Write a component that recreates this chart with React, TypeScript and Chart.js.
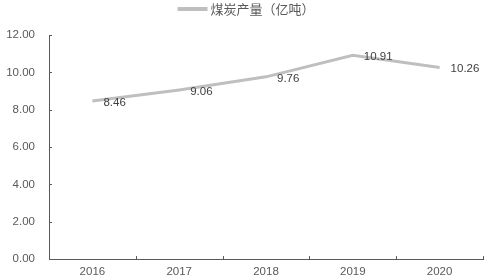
import React, { useEffect, useRef } from "react";
import { Chart, registerables } from "chart.js";

Chart.register(...registerables);

const categories = ["2016", "2017", "2018", "2019", "2020"];
const coalOutput = [8.46, 9.06, 9.76, 10.91, 10.26];
const seriesLabel = "煤炭产量（亿吨）";
const yMin = 0;
const yMax = 12;
const yStep = 2;

const FONT = "'Liberation Sans', Arial, sans-serif";
const CJK_FONT = "'Noto Sans CJK SC', 'Liberation Sans', sans-serif";
const AXIS_COLOR = "#595959";
const LINE_COLOR = "#BFBFBF";

const decorPlugin = {
  id: "decor",
  afterDatasetsDraw(chart: any) {
    const ctx = chart.ctx;
    const meta = chart.getDatasetMeta(0);
    const data = chart.data.datasets[0].data as number[];
    ctx.save();
    ctx.font = `11.5px ${FONT}`;
    ctx.fillStyle = "#404040";
    ctx.textAlign = "left";
    ctx.textBaseline = "middle";
    meta.data.forEach((pt: any, i: number) => {
      ctx.fillText(data[i].toFixed(2), pt.x + 11, pt.y + 1.5);
    });
    ctx.restore();
  },
  afterDraw(chart: any) {
    const ctx = chart.ctx;
    const xs = chart.scales.x;
    const ys = chart.scales.y;
    const area = chart.chartArea;
    ctx.save();
    ctx.strokeStyle = AXIS_COLOR;
    ctx.lineWidth = 1;
    // x tick marks at category boundaries
    const n = categories.length;
    const w = (xs.getPixelForValue(1) - xs.getPixelForValue(0));
    ctx.beginPath();
    for (let i = 0; i <= n; i++) {
      const px = Math.round(xs.getPixelForValue(0) - w / 2 + i * w) + 0.5;
      ctx.moveTo(px, area.bottom);
      ctx.lineTo(px, area.bottom - 3);
    }
    // y tick marks
    for (let v = yMin; v <= yMax; v += yStep) {
      const py = Math.round(ys.getPixelForValue(v)) + 0.5;
      ctx.moveTo(area.left, py);
      ctx.lineTo(area.left + 3, py);
    }
    ctx.stroke();

    // legend
    ctx.font = `13px ${CJK_FONT}`;
    const tw = ctx.measureText(seriesLabel).width;
    const lineW = 30;
    const gap = 3;
    const total = lineW + gap + tw;
    const startX = chart.width / 2 - total / 2;
    const cy = 9;
    ctx.strokeStyle = LINE_COLOR;
    ctx.lineWidth = 4;
    ctx.beginPath();
    ctx.moveTo(startX, cy);
    ctx.lineTo(startX + lineW, cy);
    ctx.stroke();
    ctx.fillStyle = AXIS_COLOR;
    ctx.textAlign = "left";
    ctx.textBaseline = "middle";
    ctx.fillText(seriesLabel, startX + lineW + gap, cy);
    ctx.restore();
  },
};

export default function App() {
  const ref = useRef<HTMLCanvasElement | null>(null);
  useEffect(() => {
    document.body.style.margin = "0";
    const chart = new Chart(ref.current as HTMLCanvasElement, {
      type: "line",
      data: {
        labels: categories,
        datasets: [
          {
            label: seriesLabel,
            data: coalOutput,
            borderColor: LINE_COLOR,
            backgroundColor: LINE_COLOR,
            borderWidth: 3,
            pointRadius: 0,
            tension: 0,
            fill: false,
          },
        ],
      },
      options: {
        animation: false,
        responsive: false,
        maintainAspectRatio: false,
        layout: { padding: { top: 35, right: 9, left: 0, bottom: 0 } },
        plugins: {
          legend: { display: false },
          tooltip: { enabled: false },
        },
        scales: {
          x: {
            offset: true,
            grid: { display: false, drawTicks: false },
            border: { display: true, color: AXIS_COLOR, width: 1 },
            ticks: { color: AXIS_COLOR, font: { size: 11.5, family: FONT }, padding: 6, maxRotation: 0 },
            afterFit(scale: any) {
              scale.height = 20;
            },
          },
          y: {
            min: yMin,
            max: yMax,
            grid: { display: false, drawTicks: false },
            border: { display: true, color: AXIS_COLOR, width: 1 },
            ticks: {
              stepSize: yStep,
              color: AXIS_COLOR,
              font: { size: 11.5, family: FONT },
              padding: 14,
              callback: (v: any) => Number(v).toFixed(2),
            },
            afterFit(scale: any) {
              scale.width = 49;
            },
          },
        },
      },
      plugins: [decorPlugin],
    });
    return () => chart.destroy();
  }, []);
  return (
    <div style={{ position: "fixed", left: 0, top: 0, width: 492, height: 280 }}>
      <canvas ref={ref} width={492} height={280} style={{ width: 492, height: 280 }} />
    </div>
  );
}
